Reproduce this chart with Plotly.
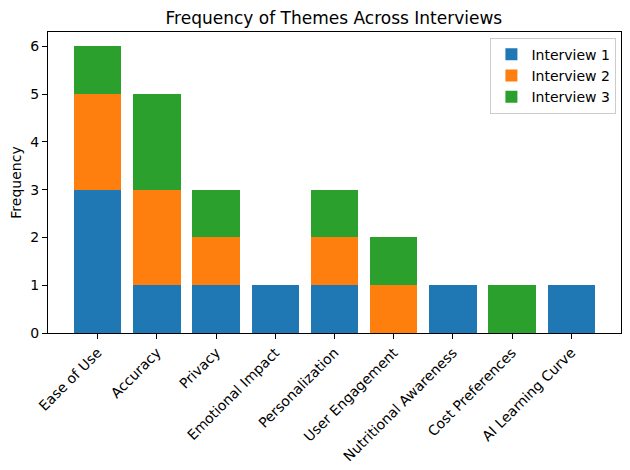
import plotly.graph_objects as go

categories = ["Ease of Use", "Accuracy", "Privacy", "Emotional Impact", "Personalization",
              "User Engagement", "Nutritional Awareness", "Cost Preferences", "AI Learning Curve"]
interview1 = [3, 1, 1, 1, 1, 0, 1, 0, 1]
interview2 = [2, 2, 1, 0, 1, 1, 0, 0, 0]
interview3 = [1, 2, 1, 0, 1, 1, 0, 1, 0]
series_names = ["Interview 1", "Interview 2", "Interview 3"]
colors = ["#1f77b4", "#ff7f0e", "#2ca02c"]

x = list(range(len(categories)))
fig = go.Figure()
for name, vals, c in zip(series_names, [interview1, interview2, interview3], colors):
    fig.add_trace(go.Bar(x=x, y=vals, name=name, marker=dict(color=c, line=dict(width=0)),
                         width=0.8))

font = "DejaVu Sans"
fig.update_layout(
    barmode="stack",
    width=630, height=470,
    margin=dict(l=48, r=9, t=32, b=137),
    paper_bgcolor="white", plot_bgcolor="white",
    font=dict(family=font, size=14, color="black"),
    title=dict(text="Frequency of Themes Across Interviews", x=0.53, xanchor="center",
               y=1 - 18 / 470, yanchor="middle", font=dict(size=17, family=font)),
    showlegend=True,
    legend=dict(x=0.992, xanchor="right", y=0.981, yanchor="top",
                bordercolor="#cccccc", borderwidth=1, bgcolor="rgba(255,255,255,0.8)",
                font=dict(size=14, family=font), tracegroupgap=0, traceorder="normal"),
    xaxis=dict(range=[-0.84, 8.84], tickmode="array", tickvals=x, ticktext=categories,
               tickangle=-45, showline=True, linecolor="black", linewidth=1, mirror=True,
               ticks="outside", ticklen=5, tickcolor="black", showgrid=False, zeroline=False,
               tickfont=dict(size=14, family=font), automargin=False),
    yaxis=dict(range=[0, 6.3], tickmode="array", tickvals=[0, 1, 2, 3, 4, 5, 6],
               showline=True, linecolor="black", linewidth=1, mirror=True,
               ticks="outside", ticklen=5, tickcolor="black", showgrid=False, zeroline=False,
               tickfont=dict(size=14, family=font), automargin=False,
               title=dict(text="Frequency", standoff=5, font=dict(size=14, family=font))),
)
fig.write_html("out.html")
